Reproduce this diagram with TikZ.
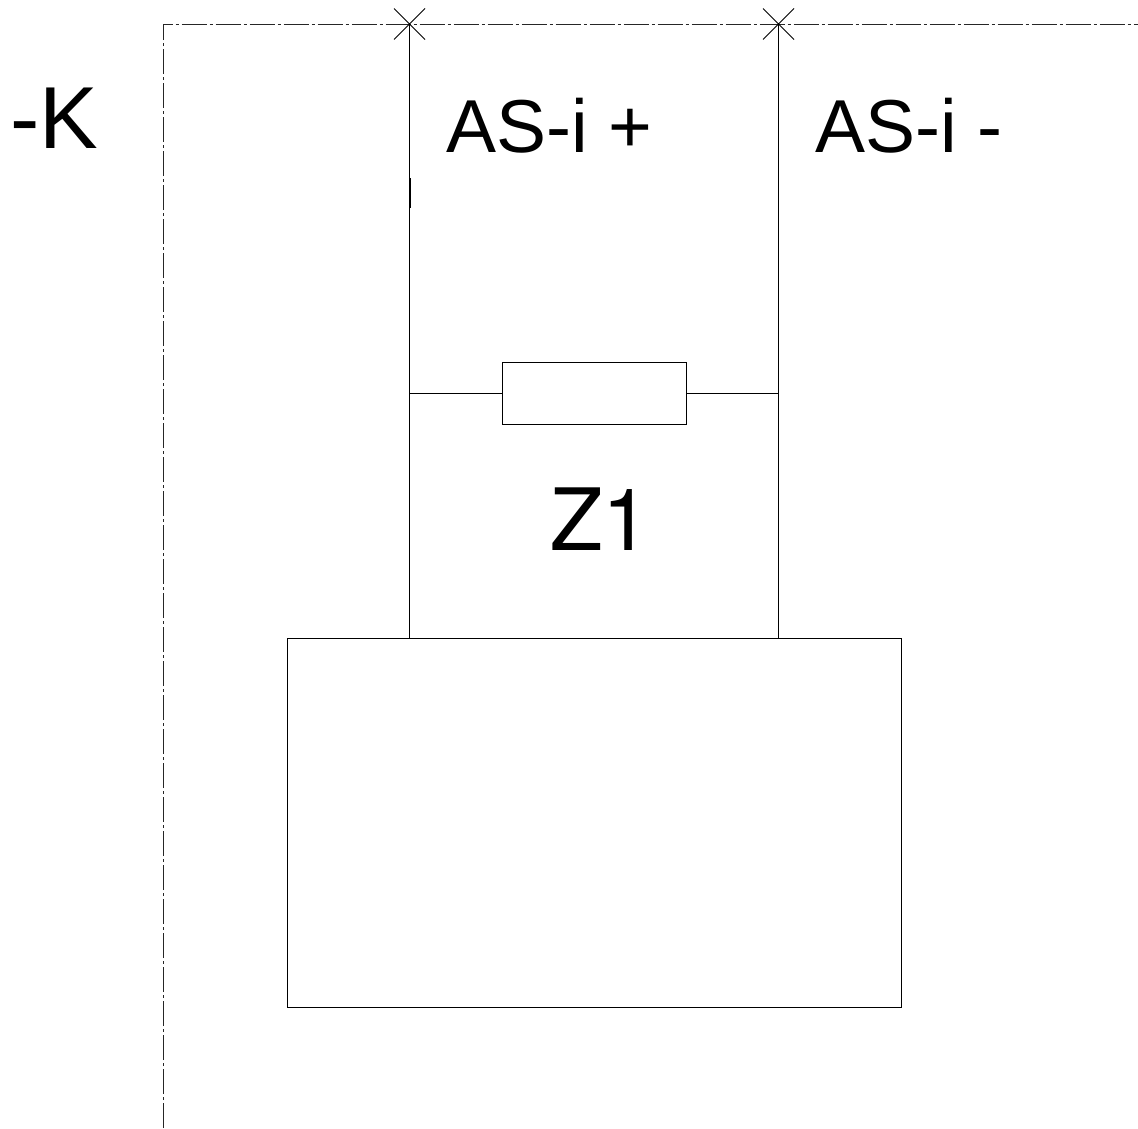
\documentclass[tikz,border=0pt]{standalone}
\usepackage{fontspec}
\setmainfont{Liberation Sans}
\newfontfamily\heros{TeX Gyre Heros}
\usetikzlibrary{shapes.misc}
\tikzset{
  x=1pt,y=-1pt,
  wire/.style={draw=black,line width=1pt},
  framel/.style={draw=black!85,line width=1pt,dash pattern=on 25pt off 3pt on 3pt off 3pt},
  boxn/.style={wire,rectangle,inner sep=0pt,outer sep=0pt,anchor=north west},
  term/.style={wire,cross out,inner sep=0pt,outer sep=0pt,minimum size=31pt},
  lab/.style={inner sep=0pt,outer sep=0pt,anchor=base west,text=black},
  labbig/.style={lab,font=\fontsize{88}{88}\selectfont},
  labz/.style={lab,font=\heros\fontsize{86}{86}\selectfont},
  labsmall/.style={lab,font=\fontsize{75}{75}\selectfont}
}
\begin{document}
\begin{tikzpicture}
\useasboundingbox (0,0) rectangle (1138,1128);
% frame
\coordinate (fc) at (163.5,24);
\coordinate (fe) at (1138,24);
\coordinate (fb) at (163.5,1128);
\draw[framel] (fb) -- (fc) -- (fe);
% boxes
\node[boxn,minimum width=614pt,minimum height=369pt] (main) at (287,638) {};
\node[boxn,minimum width=184pt,minimum height=62pt] (res) at (502,362) {};
% terminals
\node[term] (tp) at (409.5,24) {};
\node[term] (tm) at (778.5,24) {};
% connectors
\draw[wire] (tp.center) -- (tp.center |- main.north);
\draw[wire] (tm.center) -- (tm.center |- main.north);
\draw[wire] (tp.center |- res.west) -- (res.west);
\draw[wire] (res.east) -- (tm.center |- res.east);
\coordinate (ta) at (410,178);
\coordinate (tb) at (410,208);
\draw[wire,line width=0.6pt] (ta) -- (tb);
% labels
\node[labbig] (lk) at (10,148) {-K};
\node[labsmall] (lp) at (446,152.5) {AS-i +};
\node[labsmall] (lm) at (815,152.5) {AS-i -};
\node[labz] (lz) at (550,550) {Z1};
\end{tikzpicture}
\end{document}
